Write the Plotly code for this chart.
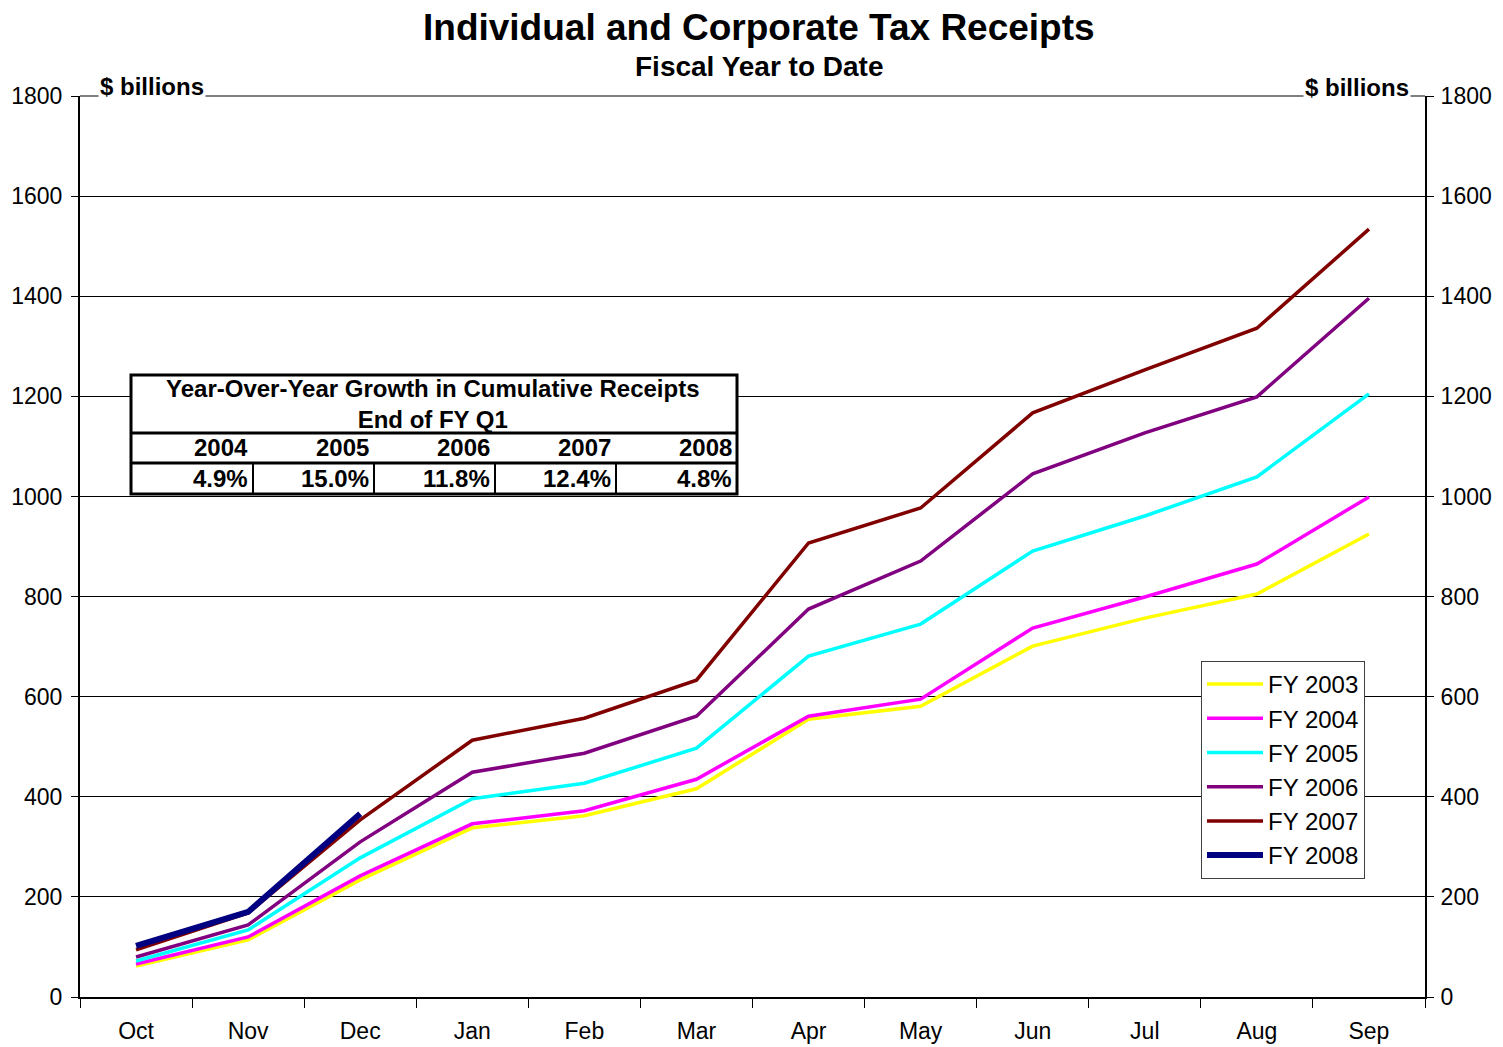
import plotly.graph_objects as go

months = ["Oct", "Nov", "Dec", "Jan", "Feb", "Mar", "Apr", "May", "Jun", "Jul", "Aug", "Sep"]

fy2003 = [62, 114, 234, 338, 362, 416, 555, 581, 701, 757, 805, 925]
fy2004 = [66, 120, 242, 346, 372, 435, 561, 595, 737, 799, 865, 999]
fy2005 = [72, 134, 278, 396, 427, 497, 681, 745, 891, 961, 1039, 1205]
fy2006 = [80, 144, 310, 449, 487, 561, 775, 871, 1045, 1127, 1199, 1396]
fy2007 = [94, 168, 354, 513, 557, 633, 907, 977, 1167, 1253, 1336, 1534]
fy2008 = [102, 170, 366]

growth_years = ["2004", "2005", "2006", "2007", "2008"]
growth_pct = ["4.9%", "15.0%", "11.8%", "12.4%", "4.8%"]

FONT = "Liberation Sans, Arial, sans-serif"

# plot area in page pixels (page body has an 8px margin)
L, R, T, B = 80, 1425, 96, 997
W, H = 1503, 1047
OFF = 8


def px(x):
    return (x - L) / (R - L)


def py(y):
    return (B - y) / (B - T)


series = [
    ("FY 2003", fy2003, "#FFFF00", 3.5),
    ("FY 2004", fy2004, "#FF00FF", 3.5),
    ("FY 2005", fy2005, "#00FFFF", 3.5),
    ("FY 2006", fy2006, "#800080", 3.5),
    ("FY 2007", fy2007, "#800000", 3.5),
    ("FY 2008", fy2008, "#000080", 6),
]

fig = go.Figure()
for name, vals, color, w in series:
    fig.add_trace(go.Scatter(
        x=months[:len(vals)], y=vals, name=name, mode="lines",
        line=dict(color=color, width=w),
    ))
# invisible copy so the right-hand axis gets drawn
fig.add_trace(go.Scatter(x=months, y=fy2003, yaxis="y2", mode="lines",
                         line=dict(width=0), showlegend=False, hoverinfo="skip"))

tickfont = dict(family=FONT, size=23, color="black")
fig.update_layout(
    width=W - OFF, height=H - OFF,
    margin=dict(l=L - OFF, r=W - R, t=T - OFF, b=H - B, autoexpand=False),
    paper_bgcolor="white", plot_bgcolor="white",
    font=dict(family=FONT, size=23, color="black"),
    showlegend=True,
    legend=dict(
        x=px(1201), y=py(661), xanchor="left", yanchor="top",
        bordercolor="#404040", borderwidth=1, bgcolor="white",
        font=dict(family=FONT, size=24), tracegroupgap=0, itemwidth=56,
    ),
    xaxis=dict(
        type="category", categoryorder="array", categoryarray=months,
        range=[-0.5, 11.5], tickson="boundaries", ticks="outside",
        ticklen=9, tickcolor="black", showline=True, linecolor="black",
        linewidth=2, showgrid=False, tickfont=tickfont, ticklabelstandoff=12,
        automargin=False,
    ),
    yaxis=dict(
        range=[0, 1800], dtick=200, ticks="outside", ticklen=7,
        tickcolor="black", showline=True, linecolor="black", linewidth=2,
        showgrid=True, gridcolor="black", gridwidth=1, zeroline=False,
        tickfont=tickfont, ticklabelstandoff=4, automargin=False,
    ),
    yaxis2=dict(
        range=[0, 1800], dtick=200, overlaying="y", side="right",
        ticks="outside", ticklen=7, tickcolor="black", showline=True,
        linecolor="black", linewidth=2, showgrid=False, zeroline=False,
        tickfont=tickfont, ticklabelstandoff=2, automargin=False,
    ),
)

ann = []
ann.append(dict(text="<b>Individual and Corporate Tax Receipts</b>", x=px(759), y=py(27),
                font=dict(size=37)))
ann.append(dict(text="<b>Fiscal Year to Date</b>", x=px(759), y=py(66), font=dict(size=28)))
ann.append(dict(text="<b>$ billions</b>", x=px(152), y=py(86), font=dict(size=24),
                bgcolor="white"))
ann.append(dict(text="<b>$ billions</b>", x=px(1357), y=py(88), font=dict(size=24),
                bgcolor="white"))

# growth table
tx0, tx1 = 131, 737
ty0, ty1, ty2, ty3 = 375, 433, 463, 494
shapes = [
    dict(type="line", x0=0, x1=1, y0=1, y1=1, line=dict(color="#808080", width=2)),
    dict(type="rect", x0=px(tx0), x1=px(tx1), y0=py(ty0), y1=py(ty3),
         line=dict(color="black", width=3), fillcolor="white"),
    dict(type="line", x0=px(tx0), x1=px(tx1), y0=py(ty1), y1=py(ty1),
         line=dict(color="black", width=3)),
    dict(type="line", x0=px(tx0), x1=px(tx1), y0=py(ty2), y1=py(ty2),
         line=dict(color="black", width=3)),
]
col_edges = [131, 253, 374, 495, 616, 737]
for xe in col_edges[1:-1]:
    shapes.append(dict(type="line", x0=px(xe), x1=px(xe), y0=py(ty2), y1=py(ty3),
                       line=dict(color="black", width=2)))
for s in shapes:
    s.update(xref="paper", yref="paper", layer="above")

ann.append(dict(text="<b>Year-Over-Year Growth in Cumulative Receipts<br>End of FY Q1</b>",
                x=px(433), y=py(404), font=dict(size=24)))
for i, (yr, pct) in enumerate(zip(growth_years, growth_pct)):
    xr = col_edges[i + 1] - 3
    ann.append(dict(text=f"<b>{yr}</b>", x=px(xr), y=py(448), xanchor="right",
                    font=dict(size=24)))
    ann.append(dict(text=f"<b>{pct}</b>", x=px(xr), y=py(478), xanchor="right",
                    font=dict(size=24)))

for a in ann:
    a.setdefault("xanchor", "center")
    a.update(xref="paper", yref="paper", yanchor="middle", showarrow=False)
    a["font"] = dict(family=FONT, color="black", **a["font"])

fig.update_layout(annotations=ann, shapes=shapes)

fig.write_html("out.html")
